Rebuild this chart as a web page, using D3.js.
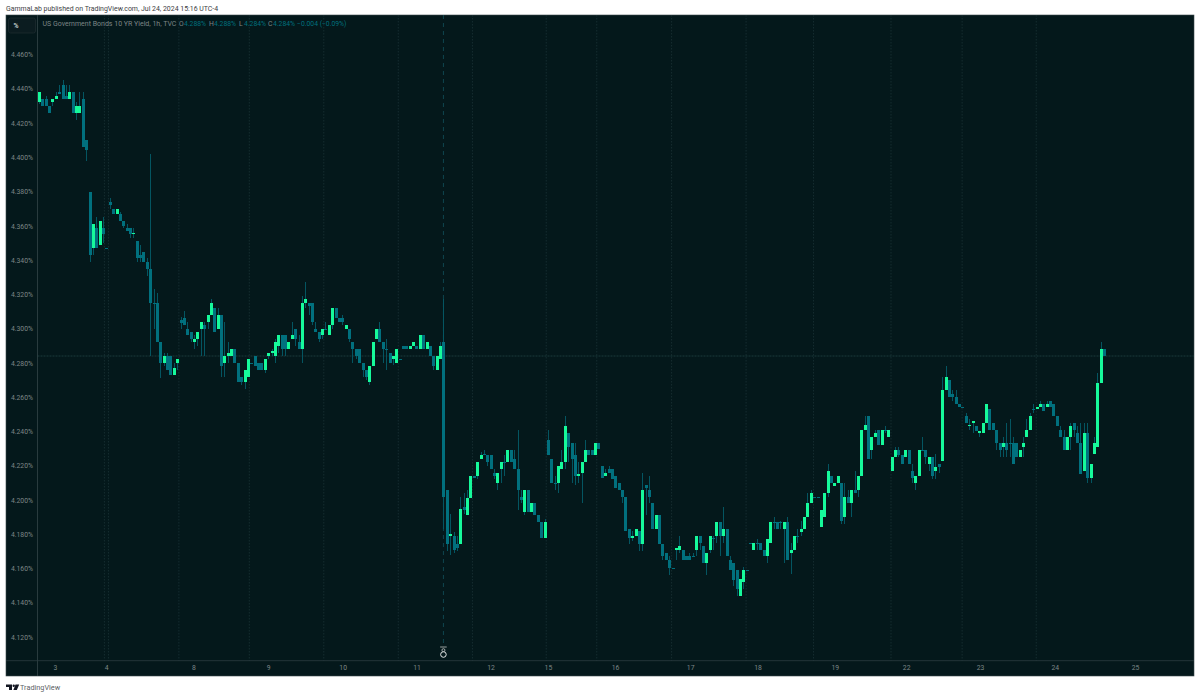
<!DOCTYPE html>
<html>
<head>
<meta charset="utf-8">
<title>US Government Bonds 10 YR Yield</title>
<script src="https://cdn.jsdelivr.net/npm/d3@7"></script>
<style>
  html, body { margin: 0; padding: 0; background: #fff; }
  svg { display: block; font-family: Roboto, sans-serif; }
</style>
</head>
<body>
<div id="chart"></div>
<script>
// valeurs, une bougie par heure
const opens = [
  4.432,4.434,4.434,4.430,4.432,4.434,4.438,4.442,4.436,4.434,
  4.438,4.426,4.426,4.434,4.410,4.380,4.347,4.359,4.349,4.359,
  4.347,4.374,4.370,4.367,4.367,4.363,4.359,4.359,4.355,4.351,
  4.343,4.345,4.339,4.335,4.315,4.315,4.292,4.280,4.284,4.284,
  4.273,4.280,4.305,4.306,4.300,4.298,4.292,4.294,4.300,4.302,
  4.304,4.308,4.312,4.300,4.308,4.280,4.284,4.284,4.288,4.280,
  4.272,4.269,4.272,4.280,4.284,4.280,4.280,4.276,4.284,4.286,
  4.284,4.290,4.296,4.296,4.288,4.294,4.300,4.292,4.288,4.315,
  4.315,4.315,4.300,4.298,4.296,4.300,4.296,4.302,4.312,4.306,
  4.306,4.300,4.300,4.292,4.288,4.288,4.280,4.276,4.269,4.278,
  4.294,4.300,4.292,4.288,4.286,4.282,4.280,4.282,4.290,4.290,
  4.288,4.290,4.290,4.288,4.296,4.288,4.290,4.284,4.276,4.282,
  4.292,4.206,4.179,4.179,4.174,4.174,4.196,4.191,4.201,4.214,
  4.214,4.224,4.227,4.226,4.226,4.216,4.210,4.218,4.222,4.222,
  4.229,4.224,4.218,4.202,4.193,4.206,4.193,4.198,4.191,4.187,
  4.178,4.235,4.224,4.210,4.210,4.218,4.222,4.239,4.233,4.226,
  4.214,4.216,4.222,4.229,4.229,4.226,4.233,4.220,4.214,4.218,
  4.218,4.214,4.210,4.206,4.202,4.183,4.178,4.179,4.182,4.174,
  4.209,4.206,4.198,4.183,4.191,4.174,4.169,4.165,4.160,4.171,
  4.171,4.171,4.167,4.167,4.167,4.171,4.179,4.173,4.163,4.171,
  4.178,4.179,4.187,4.179,4.183,4.165,4.163,4.159,4.144,4.152,
  4.159,4.175,4.171,4.175,4.175,4.171,4.167,4.175,4.187,4.187,
  4.187,4.183,4.187,4.169,4.171,4.179,4.181,4.183,4.190,4.198,
  4.202,4.202,4.184,4.190,4.204,4.214,4.208,4.210,4.210,4.190,
  4.202,4.198,4.206,4.206,4.214,4.241,4.249,4.229,4.237,4.241,
  4.232,4.241,4.237,4.217,4.225,4.229,4.226,4.225,4.229,4.217,
  4.210,4.214,4.229,4.229,4.221,4.225,4.217,4.221,4.223,4.264,
  4.270,4.262,4.260,4.256,4.254,4.249,4.243,4.245,4.243,4.239,
  4.239,4.245,4.253,4.245,4.241,4.233,4.231,4.233,4.233,4.233,
  4.233,4.225,4.231,4.237,4.241,4.253,4.253,4.254,4.256,4.254,
  4.258,4.256,4.249,4.241,4.237,4.229,4.237,4.245,4.239,4.233,
  4.217,4.239,4.213,4.227,4.231,4.268,4.288
];
const highs = [
  4.438,4.434,4.436,4.430,4.434,4.438,4.442,4.445,4.442,4.442,
  4.438,4.432,4.438,4.438,4.410,4.380,4.361,4.365,4.363,4.365,
  4.347,4.376,4.370,4.370,4.368,4.363,4.361,4.359,4.359,4.351,
  4.349,4.345,4.341,4.402,4.323,4.321,4.292,4.286,4.286,4.284,
  4.280,4.282,4.307,4.310,4.304,4.298,4.296,4.298,4.304,4.304,
  4.308,4.317,4.312,4.312,4.308,4.304,4.292,4.288,4.288,4.280,
  4.272,4.276,4.282,4.280,4.284,4.280,4.280,4.282,4.286,4.288,
  4.294,4.296,4.296,4.296,4.292,4.304,4.300,4.296,4.319,4.327,
  4.315,4.315,4.304,4.298,4.300,4.304,4.302,4.312,4.312,4.306,
  4.308,4.302,4.300,4.292,4.288,4.288,4.280,4.276,4.278,4.292,
  4.300,4.304,4.292,4.294,4.286,4.284,4.288,4.282,4.290,4.290,
  4.290,4.292,4.290,4.296,4.296,4.292,4.290,4.284,4.284,4.292,
  4.317,4.206,4.192,4.181,4.179,4.202,4.204,4.206,4.214,4.214,
  4.222,4.228,4.229,4.226,4.226,4.218,4.216,4.222,4.226,4.229,
  4.229,4.229,4.241,4.206,4.206,4.206,4.198,4.198,4.191,4.187,
  4.189,4.241,4.224,4.214,4.220,4.229,4.249,4.239,4.233,4.233,
  4.222,4.222,4.235,4.229,4.229,4.233,4.233,4.220,4.218,4.220,
  4.218,4.214,4.210,4.206,4.202,4.183,4.182,4.183,4.182,4.216,
  4.209,4.214,4.198,4.191,4.191,4.174,4.169,4.167,4.160,4.172,
  4.179,4.171,4.167,4.169,4.169,4.179,4.179,4.173,4.169,4.179,
  4.179,4.187,4.187,4.196,4.183,4.167,4.163,4.159,4.154,4.161,
  4.159,4.175,4.175,4.177,4.175,4.171,4.177,4.187,4.190,4.187,
  4.188,4.187,4.190,4.175,4.179,4.183,4.188,4.190,4.204,4.206,
  4.202,4.202,4.194,4.204,4.221,4.214,4.210,4.214,4.210,4.210,
  4.206,4.206,4.217,4.214,4.241,4.249,4.249,4.237,4.241,4.241,
  4.241,4.243,4.241,4.225,4.231,4.231,4.226,4.229,4.229,4.221,
  4.214,4.229,4.237,4.229,4.225,4.225,4.227,4.221,4.272,4.278,
  4.270,4.264,4.264,4.256,4.254,4.251,4.247,4.246,4.243,4.240,
  4.245,4.256,4.253,4.245,4.241,4.233,4.237,4.245,4.247,4.237,
  4.233,4.229,4.237,4.247,4.251,4.256,4.254,4.258,4.256,4.258,
  4.258,4.256,4.249,4.243,4.241,4.237,4.245,4.245,4.243,4.245,
  4.245,4.245,4.221,4.237,4.274,4.292,4.288
];
const lows = [
  4.431,4.430,4.430,4.426,4.430,4.434,4.437,4.434,4.434,4.434,
  4.426,4.422,4.426,4.406,4.398,4.339,4.343,4.347,4.349,4.350,
  4.347,4.370,4.367,4.367,4.363,4.359,4.357,4.353,4.353,4.339,
  4.339,4.339,4.331,4.284,4.300,4.292,4.271,4.278,4.276,4.273,
  4.273,4.276,4.300,4.302,4.296,4.292,4.288,4.290,4.284,4.284,
  4.300,4.308,4.298,4.300,4.272,4.272,4.280,4.284,4.280,4.269,
  4.267,4.265,4.272,4.280,4.278,4.276,4.276,4.274,4.282,4.284,
  4.280,4.286,4.284,4.284,4.288,4.294,4.290,4.288,4.280,4.312,
  4.308,4.302,4.298,4.292,4.294,4.300,4.296,4.300,4.306,4.304,
  4.302,4.300,4.292,4.280,4.282,4.280,4.272,4.270,4.267,4.278,
  4.294,4.292,4.280,4.276,4.280,4.279,4.280,4.282,4.288,4.288,
  4.288,4.290,4.288,4.288,4.288,4.288,4.284,4.276,4.276,4.282,
  4.183,4.170,4.168,4.169,4.170,4.174,4.192,4.191,4.201,4.213,
  4.212,4.224,4.226,4.220,4.218,4.212,4.206,4.210,4.214,4.222,
  4.222,4.218,4.194,4.198,4.191,4.193,4.193,4.191,4.187,4.178,
  4.178,4.226,4.210,4.206,4.204,4.218,4.218,4.222,4.210,4.209,
  4.210,4.198,4.222,4.226,4.226,4.226,4.230,4.213,4.214,4.216,
  4.212,4.207,4.206,4.198,4.182,4.174,4.176,4.179,4.170,4.170,
  4.191,4.198,4.183,4.183,4.174,4.165,4.165,4.156,4.160,4.165,
  4.169,4.165,4.165,4.165,4.167,4.167,4.171,4.163,4.156,4.169,
  4.171,4.175,4.167,4.175,4.167,4.159,4.150,4.144,4.144,4.148,
  4.159,4.174,4.171,4.171,4.171,4.167,4.163,4.175,4.183,4.183,
  4.183,4.163,4.165,4.157,4.171,4.175,4.179,4.183,4.190,4.198,
  4.202,4.202,4.184,4.190,4.202,4.210,4.208,4.210,4.186,4.186,
  4.198,4.190,4.204,4.202,4.214,4.241,4.224,4.224,4.237,4.232,
  4.232,4.239,4.237,4.217,4.225,4.225,4.221,4.225,4.221,4.210,
  4.206,4.214,4.229,4.221,4.217,4.212,4.212,4.216,4.223,4.264,
  4.260,4.258,4.256,4.254,4.254,4.245,4.241,4.239,4.240,4.237,
  4.239,4.245,4.241,4.241,4.229,4.225,4.225,4.225,4.225,4.221,
  4.225,4.225,4.225,4.237,4.241,4.251,4.253,4.254,4.252,4.254,
  4.254,4.249,4.243,4.237,4.229,4.229,4.229,4.237,4.233,4.215,
  4.217,4.210,4.210,4.227,4.231,4.268,4.284
];
const closes = [
  4.438,4.430,4.430,4.426,4.434,4.436,4.437,4.434,4.434,4.438,
  4.426,4.430,4.430,4.406,4.404,4.343,4.361,4.347,4.363,4.355,
  4.347,4.372,4.367,4.370,4.363,4.360,4.357,4.355,4.356,4.341,
  4.341,4.339,4.335,4.315,4.315,4.292,4.280,4.284,4.276,4.273,
  4.277,4.282,4.303,4.302,4.296,4.294,4.294,4.298,4.304,4.300,
  4.308,4.315,4.298,4.308,4.278,4.284,4.286,4.288,4.280,4.269,
  4.269,4.276,4.282,4.280,4.278,4.276,4.276,4.282,4.286,4.287,
  4.292,4.296,4.288,4.288,4.292,4.296,4.294,4.288,4.315,4.317,
  4.313,4.304,4.298,4.294,4.300,4.300,4.302,4.312,4.306,4.304,
  4.304,4.302,4.294,4.288,4.284,4.280,4.276,4.272,4.278,4.292,
  4.300,4.292,4.288,4.288,4.280,4.284,4.288,4.282,4.288,4.288,
  4.290,4.292,4.288,4.296,4.288,4.292,4.284,4.278,4.284,4.290,
  4.202,4.174,4.180,4.171,4.172,4.195,4.194,4.201,4.214,4.213,
  4.222,4.226,4.226,4.222,4.218,4.214,4.216,4.222,4.222,4.229,
  4.222,4.218,4.206,4.200,4.206,4.193,4.198,4.191,4.187,4.178,
  4.187,4.226,4.210,4.210,4.220,4.222,4.243,4.231,4.224,4.214,
  4.215,4.222,4.229,4.226,4.226,4.233,4.230,4.213,4.216,4.216,
  4.212,4.207,4.206,4.202,4.182,4.178,4.179,4.183,4.174,4.206,
  4.207,4.202,4.183,4.191,4.174,4.167,4.165,4.160,4.160,4.172,
  4.173,4.165,4.165,4.165,4.167,4.179,4.175,4.163,4.169,4.179,
  4.178,4.187,4.179,4.183,4.167,4.159,4.153,4.148,4.154,4.159,
  4.159,4.174,4.175,4.175,4.171,4.167,4.177,4.187,4.187,4.183,
  4.187,4.187,4.165,4.171,4.179,4.179,4.183,4.190,4.198,4.204,
  4.202,4.202,4.194,4.204,4.217,4.210,4.210,4.214,4.188,4.202,
  4.198,4.206,4.204,4.214,4.241,4.244,4.224,4.237,4.239,4.232,
  4.241,4.241,4.241,4.225,4.229,4.226,4.221,4.229,4.221,4.213,
  4.214,4.229,4.229,4.225,4.225,4.214,4.219,4.219,4.264,4.272,
  4.260,4.260,4.256,4.254,4.254,4.245,4.244,4.246,4.240,4.240,
  4.245,4.256,4.241,4.241,4.233,4.229,4.233,4.229,4.233,4.221,
  4.225,4.229,4.233,4.241,4.249,4.253,4.254,4.256,4.252,4.256,
  4.254,4.249,4.243,4.237,4.229,4.237,4.243,4.241,4.233,4.215,
  4.239,4.213,4.221,4.233,4.268,4.288,4.284
];

const priceTicks = [4.12,4.14,4.16,4.18,4.20,4.22,4.24,4.26,4.28,4.30,4.32,4.34,4.36,4.38,4.40,4.42,4.44,4.46];
const dayLabels = ["3","4","8","9","10","11","12","15","16","17","18","19","22","23","24","25"];
const dayPositions = [4.75,19.9,45.8,68,90.1,112,134,151,170.9,193.2,213.2,236.1,257.3,279.2,301.4,325.2];
const sessionLines = [19.4,20.6,41.5,62.4,84.5,106.6,128.6,150.5,165.5,187.7,209.8,229.8,252.8,273.9,295.9];
const lastPrice = 4.284;
const eventBar = 120;

const width = 1200;
const height = 697;
const frameLeft = 6;
const frameRight = 1194;
const frameTop = 15;
const frameBottom = 676;
const axisLeft = 37.5;
const axisBottom = 660.7;

const upColor = "#16fa9b";
const downColor = "#01707e";
const wickColor = "#045561";
const bgColor = "#04181b";
const textColor = "#7d8686";

const svg = d3.select("#chart").append("svg")
  .attr("width", width)
  .attr("height", height);

svg.append("rect")
  .attr("x", frameLeft).attr("y", frameTop)
  .attr("width", frameRight - frameLeft).attr("height", frameBottom - frameTop)
  .attr("fill", bgColor).attr("stroke", "#3d4a4d").attr("stroke-width", 0.6);

// échelles
const x = d3.scaleLinear().domain([0, 316]).range([39, 1104]);
const y = d3.scaleLinear().domain([4.12, 4.46]).range([637, 54.5]);

// lignes de séance
svg.append("g").selectAll("line").data(sessionLines).join("line")
  .attr("x1", d => x(d)).attr("x2", d => x(d))
  .attr("y1", frameTop).attr("y2", axisBottom)
  .attr("stroke", "#1b3236")
  .attr("stroke-width", 0.8)
  .attr("stroke-dasharray", "1.5,1.5");

// ligne du dernier prix
svg.append("line")
  .attr("x1", axisLeft).attr("x2", frameRight)
  .attr("y1", y(lastPrice)).attr("y2", y(lastPrice))
  .attr("stroke", "#1c3a3a")
  .attr("stroke-dasharray", "2,1");

// ligne de l'événement du 11
svg.append("line")
  .attr("x1", x(eventBar)).attr("x2", x(eventBar))
  .attr("y1", frameTop).attr("y2", 643)
  .attr("stroke", "#11505c")
  .attr("stroke-width", 0.8)
  .attr("stroke-dasharray", "4,4");

// bougies, calées sur les pixels
const candles = svg.append("g")
  .attr("shape-rendering", "crispEdges")
  .selectAll("g")
  .data(d3.range(opens.length))
  .join("g");

candles.append("rect")
  .attr("x", i => Math.round(x(i)) - 0.5)
  .attr("width", 1)
  .attr("y", i => y(highs[i]))
  .attr("height", i => y(lows[i]) - y(highs[i]))
  .attr("fill", wickColor);

candles.append("rect")
  .attr("x", i => Math.round(x(i)) - 1.5)
  .attr("width", 3)
  .attr("y", i => y(Math.max(opens[i], closes[i])))
  .attr("height", i => Math.max(1, Math.abs(y(opens[i]) - y(closes[i]))))
  .attr("fill", i => closes[i] > opens[i] ? upColor : downColor);

// axes
const priceAxis = d3.axisLeft(y)
  .tickValues(priceTicks)
  .tickSize(0)
  .tickPadding(4.5)
  .tickFormat(d => d3.format(".3f")(d) + "%");

const timeAxis = d3.axisBottom(x)
  .tickValues(dayPositions)
  .tickSize(0)
  .tickPadding(4)
  .tickFormat((d, i) => dayLabels[i]);

const gy = svg.append("g").attr("transform", `translate(${axisLeft},0)`).call(priceAxis);
const gx = svg.append("g").attr("transform", `translate(0,${axisBottom})`).call(timeAxis);

[gy, gx].forEach(g => {
  g.select(".domain").remove();
  g.selectAll("text")
    .attr("fill", textColor)
    .style("font-family", "Roboto, sans-serif")
    .style("font-size", "6.8px");
});

svg.append("line")
  .attr("x1", axisLeft).attr("x2", axisLeft)
  .attr("y1", frameTop).attr("y2", frameBottom)
  .attr("stroke", "#3a4a4d").attr("stroke-width", 0.7);
svg.append("line")
  .attr("x1", frameLeft).attr("x2", frameRight)
  .attr("y1", axisBottom).attr("y2", axisBottom)
  .attr("stroke", "#2c3e41").attr("stroke-width", 0.8);

// marqueur blanc en bas de la ligne d'événement
const marker = svg.append("g").attr("transform", `translate(${x(eventBar)},0)`);
marker.append("line").attr("x1", -3.3).attr("x2", 3.3).attr("y1", 647).attr("y2", 647)
  .attr("stroke", "#aab0b0").attr("stroke-width", 0.9);
marker.append("circle").attr("r", 2.8).attr("cy", 654.5)
  .attr("fill", "none").attr("stroke", "#e6e9e9").attr("stroke-width", 1);
marker.append("circle").attr("r", 1.5).attr("cy", 650.2)
  .attr("fill", "none").attr("stroke", "#c8cccc").attr("stroke-width", 0.8);

// bouton %
svg.append("rect")
  .attr("x", 8.5).attr("y", 18).attr("width", 27).attr("height", 15).attr("rx", 2)
  .attr("fill", "#0b1c20").attr("stroke", "#1f2e32").attr("stroke-width", 0.7);
svg.append("text").attr("x", 13.5).attr("y", 28)
  .attr("fill", "#c4cccc").attr("font-size", 6.8).attr("font-weight", "bold").text("%");

// légende
const legendTitle = "US Government Bonds 10 YR Yield, 1h, TVC";
const legendLetters = ["O", "H", "L", "C"];
const legendValues = ["4.288%", "4.288%", "4.284%", "4.284%"];
const legendX = [179, 209, 239, 268];
const legendChange = "−0.004 (−0.09%)";

svg.append("text").attr("x", 42.5).attr("y", 26)
  .attr("fill", textColor).attr("font-size", 7).text(legendTitle);
legendLetters.forEach((l, i) => {
  svg.append("text").attr("x", legendX[i]).attr("y", 26)
    .attr("fill", textColor).attr("font-size", 6.8).text(l);
  svg.append("text").attr("x", legendX[i] + 5).attr("y", 26)
    .attr("fill", downColor).attr("font-size", 6.8).text(legendValues[i]);
});
svg.append("text").attr("x", 297).attr("y", 26)
  .attr("fill", downColor).attr("font-size", 6.8).text(legendChange);

// en-tête et pied de page
svg.append("text").attr("x", 6).attr("y", 11)
  .attr("fill", "#3c4043").attr("font-size", 6.95)
  .text("GammaLab published on TradingView.com, Jul 24, 2024 15:16 UTC-4");

const logo = svg.append("g").attr("fill", "#131722");
logo.append("path").attr("d", "M6 684.5h6v5.5h-3v-3h-3z");
logo.append("circle").attr("cx", 13.7).attr("cy", 685.7).attr("r", 1.2);
logo.append("path").attr("d", "M15.5 684.5h3.7l-2.4 5.5h-3.4z");
svg.append("text").attr("x", 20).attr("y", 690)
  .attr("fill", "#5d6266").attr("font-size", 7.3).text("TradingView");
</script>
</body>
</html>
